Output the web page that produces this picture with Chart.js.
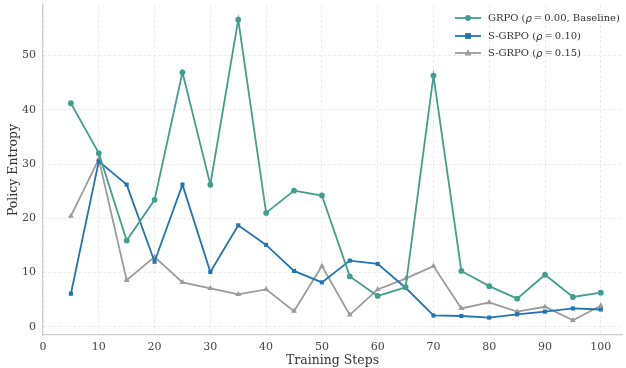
<!DOCTYPE html>
<html><head><meta charset="utf-8">
<script src="https://cdn.jsdelivr.net/npm/chart.js@4.4.1/dist/chart.umd.min.js"></script>
<style>html,body{margin:0;padding:0;background:#fff}#wrap{width:626px;height:368px}</style>
</head><body><div id="wrap"><canvas id="c" width="626" height="368"></canvas></div>
<script>
const steps = [5,10,15,20,25,30,35,40,45,50,55,60,65,70,75,80,85,90,95,100];
const grpo = [41.2,32.0,15.9,23.4,46.9,26.2,56.6,21.0,25.1,24.2,9.3,5.7,7.3,46.3,10.3,7.5,5.2,9.6,5.5,6.3];
const sgrpo10 = [6.1,30.5,26.2,12.0,26.2,10.1,18.7,15.1,10.3,8.2,12.2,11.6,7.2,2.1,2.0,1.7,2.3,2.8,3.4,3.2];
const sgrpo15 = [20.4,30.9,8.6,12.9,8.2,7.1,6.0,6.9,2.9,11.2,2.2,6.9,8.9,11.2,3.4,4.5,2.8,3.7,1.2,3.9];
const seriesLabels = ['GRPO (ρ=0.00, Baseline)','S-GRPO (ρ=0.10)','S-GRPO (ρ=0.15)'];
const xTicks = [0,10,20,30,40,50,60,70,80,90,100];
const yTicks = [0,10,20,30,40,50];

const FONT = "'DejaVu Serif', serif";
const colors = ['#449e8e','#2273b3','#9b9b9b'];
const shapes = ['circle','rect','triangle'];
const sizes = [2.9,2.9,3.4];
const series = [grpo, sgrpo10, sgrpo15];

const datasets = series.map((vals,i)=>({
  label: seriesLabels[i],
  data: steps.map((s,j)=>({x:s,y:vals[j]})),
  borderColor: colors[i], backgroundColor: colors[i],
  borderWidth: 1.8, pointStyle: shapes[i], pointRadius: sizes[i],
  pointBorderWidth: 0, tension: 0
}));

const legendPlugin = {
  id:'customLegend',
  afterDraw(chart){
    const ctx = chart.ctx;
    ctx.save();
    const x0 = 455, rows = [18,36,53];
    chart.data.datasets.forEach((ds,i)=>{
      const y = rows[i];
      ctx.strokeStyle = ds.borderColor; ctx.lineWidth = 1.8;
      ctx.beginPath(); ctx.moveTo(x0,y); ctx.lineTo(x0+26,y); ctx.stroke();
      ctx.fillStyle = ds.backgroundColor;
      const cx = x0+13, r = ds.pointRadius;
      ctx.beginPath();
      if (ds.pointStyle==='circle'){ ctx.arc(cx,y,r,0,Math.PI*2); }
      else if (ds.pointStyle==='rect'){ ctx.rect(cx-r,y-r,2*r,2*r); }
      else { ctx.moveTo(cx,y-r*1.1); ctx.lineTo(cx+r,y+r*0.7); ctx.lineTo(cx-r,y+r*0.7); ctx.closePath(); }
      ctx.fill();
      const parts = ds.label.split('ρ');
      let tx = x0+33;
      ctx.fillStyle = '#333'; ctx.textBaseline='middle'; ctx.textAlign='left';
      ctx.font = "10px "+FONT;
      ctx.fillText(parts[0],tx,y); tx += ctx.measureText(parts[0]).width;
      ctx.font = "italic 10px 'DejaVu Sans', sans-serif";
      ctx.fillText('ρ',tx,y+1); tx += ctx.measureText('ρ').width;
      ctx.font = "10px "+FONT;
      const rest = parts[1].replace('=','\u2009=\u2009');
      ctx.fillText(rest,tx,y);
    });
    ctx.restore();
  }
};

new Chart(document.getElementById('c'),{
  type:'line',
  data:{datasets},
  options:{
    responsive:false, animation:false,
    layout:{padding:{top:5,right:0,left:0,bottom:0}},
    plugins:{legend:{display:false},tooltip:{enabled:false}},
    scales:{
      x:{type:'linear',min:0,max:103.8,
        afterBuildTicks(s){ s.ticks = xTicks.map(v=>({value:v})); },
        afterFit(s){ s.height = 33; s.paddingLeft = 0; s.paddingRight = 0; },
        grid:{color:'#e6e6e6',lineWidth:0.8,drawTicks:false},
        border:{display:true,color:'#cccccc',width:1.2,dash:[3,2]},
        ticks:{padding:6,color:'#444',font:{family:FONT,size:11},maxRotation:0},
        title:{display:true,text:'Training Steps',color:'#333',font:{family:FONT,size:12.5},padding:{top:0,bottom:0}}
      },
      y:{type:'linear',min:-1.5,max:59.3,
        afterBuildTicks(s){ s.ticks = yTicks.map(v=>({value:v})); },
        afterFit(s){ s.width = 43; s.paddingTop = 0; s.paddingBottom = 0; },
        grid:{color:'#e6e6e6',lineWidth:0.8,drawTicks:false},
        border:{display:true,color:'#cccccc',width:1.2,dash:[3,2]},
        ticks:{padding:7,color:'#444',font:{family:FONT,size:11}},
        title:{display:true,text:'Policy Entropy',color:'#333',font:{family:FONT,size:12.5},padding:{top:6,bottom:0}}
      }
    }
  },
  plugins:[legendPlugin]
});
</script></body></html>
